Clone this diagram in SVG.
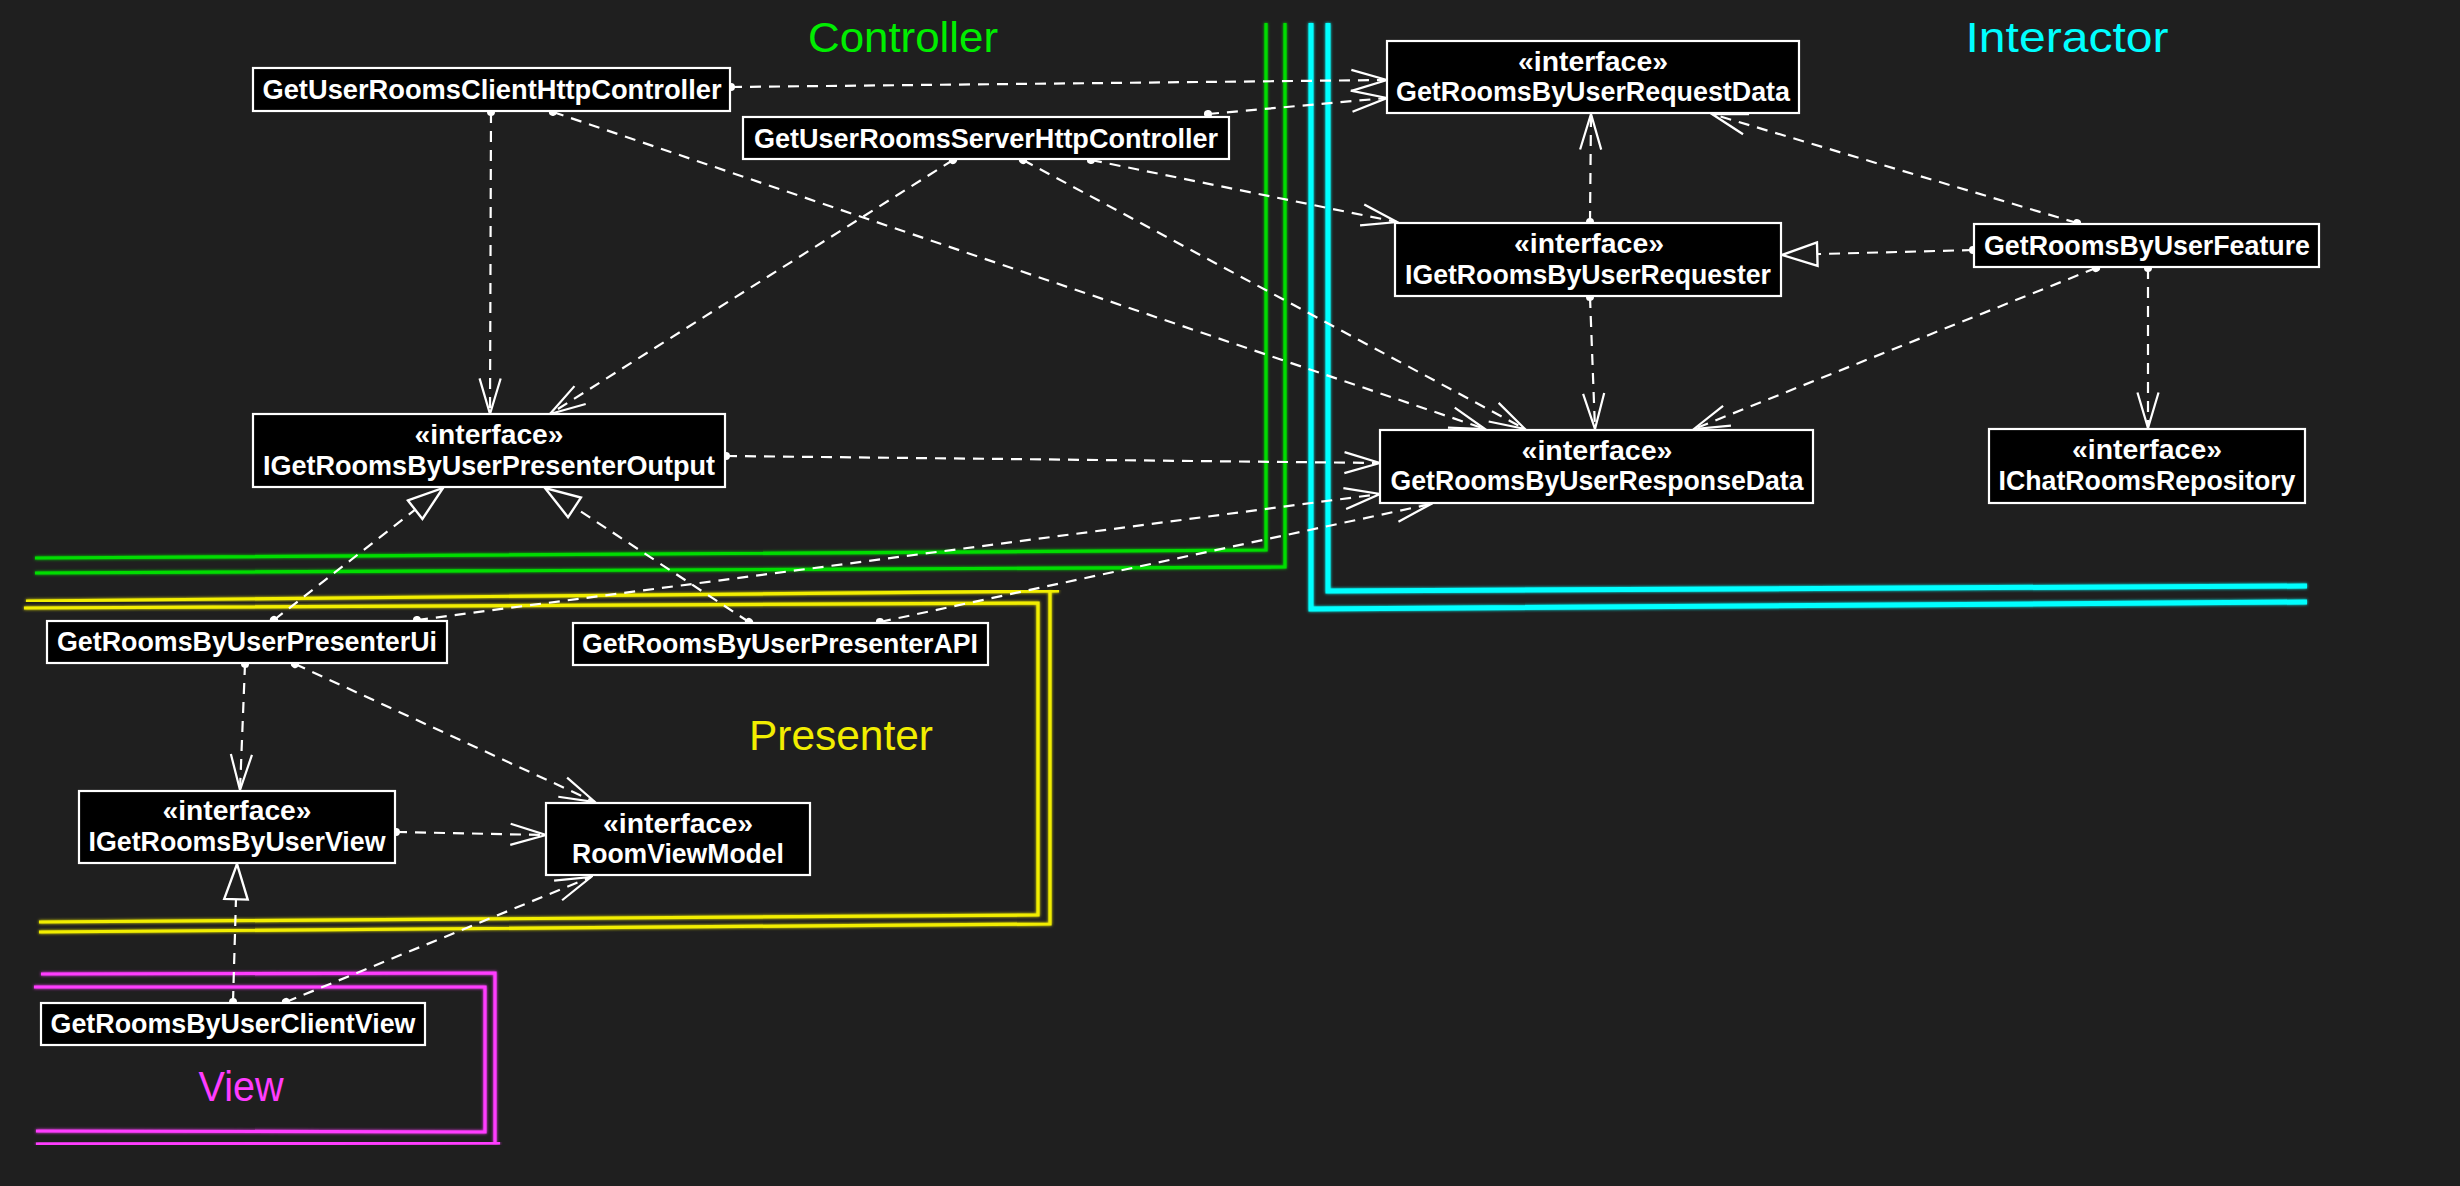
<svg xmlns="http://www.w3.org/2000/svg" width="2460" height="1186" viewBox="0 0 2460 1186">
<defs>
<style>
.bg{fill:#1f1f1f}
.box{fill:#000;stroke:#fff;stroke-width:2.2}
.t{font-family:"Liberation Sans",Arial,sans-serif;font-weight:bold;font-size:27px;fill:#fff;text-anchor:middle}
.lbl{font-family:"Liberation Sans",Arial,sans-serif;font-size:42px;text-anchor:middle}
.c{fill:none;stroke:#fff;stroke-width:2.2;stroke-dasharray:11 8}
.dep{marker-start:url(#dot);marker-end:url(#open)}
.real{marker-start:url(#dot);marker-end:url(#tri)}
.g{fill:none;stroke:#00dd00;stroke-width:3.2;filter:url(#glow)}
.y{fill:none;stroke:#f2ee00;stroke-width:3.2;filter:url(#glow)}
.cy{fill:none;stroke:#00ffff;stroke-width:5;filter:url(#glow)}
.m{fill:none;stroke:#ff3cff;stroke-width:3.2;filter:url(#glow)}
</style>
<filter id="glow" x="-5%" y="-5%" width="110%" height="110%">
<feGaussianBlur in="SourceGraphic" stdDeviation="1.5" result="b"/>
<feMerge><feMergeNode in="b"/><feMergeNode in="SourceGraphic"/></feMerge>
</filter>
<marker id="open" markerUnits="userSpaceOnUse" markerWidth="40" markerHeight="30" viewBox="-34 -12 36 24" refX="0" refY="0" orient="auto">
<path d="M-32,-9.5 L0,0 L-32,9.5" fill="none" stroke="#fff" stroke-width="2" stroke-dasharray="none"/>
</marker>
<marker id="tri" markerUnits="userSpaceOnUse" markerWidth="40" markerHeight="30" viewBox="-32 -12 34 24" refX="0" refY="0" orient="auto">
<path d="M-30,-10 L0,0 L-30,10 Z" fill="#1f1f1f" stroke="#fff" stroke-width="2" stroke-dasharray="none"/>
</marker>
<marker id="dot" markerUnits="userSpaceOnUse" markerWidth="12" markerHeight="12" viewBox="-6 -6 12 12" refX="0" refY="0" orient="auto">
<circle cx="0" cy="0" r="4" fill="#fff"/>
</marker>
</defs>
<rect class="bg" x="0" y="0" width="2460" height="1186"/>

<g id="regions">
<polyline class="g" points="1266,23 1266,550 35,558"/>
<polyline class="g" points="1285,23 1285,567 35,573"/>
<polyline class="cy" points="1311,23 1311,609 2307,602"/>
<polyline class="cy" points="1328,23 1328,591 2307,586"/>
<polyline class="y" points="26,601 1059,591"/>
<polyline class="y" points="1050,591 1050,924 39,932"/>
<polyline class="y" points="24,608 1038,603 1038,915 39,922"/>
<polyline class="m" points="41,974 495,973 495,1143"/>
<polyline class="m" points="36,1144 500,1143"/>
<polyline class="m" points="34,987 485,987 485,1132 36,1131"/>
<text class="lbl" x="903" y="52" fill="#00ee00" textLength="190" lengthAdjust="spacingAndGlyphs">Controller</text>
<text class="lbl" x="2067" y="52" fill="#00ffff" textLength="203" lengthAdjust="spacingAndGlyphs">Interactor</text>
<text class="lbl" x="841" y="750" fill="#f2ee00" textLength="184" lengthAdjust="spacingAndGlyphs">Presenter</text>
<text class="lbl" x="241" y="1101" fill="#ff3cff" textLength="85" lengthAdjust="spacingAndGlyphs">View</text>
</g>

<g id="connectors">
<line class="c dep" x1="731" y1="87" x2="1387" y2="80"/>
<line class="c dep" x1="1208" y1="114" x2="1387" y2="98"/>
<line class="c dep" x1="1091" y1="160" x2="1397" y2="222"/>
<line class="c dep" x1="491" y1="112" x2="490" y2="414"/>
<line class="c dep" x1="553" y1="112" x2="1485" y2="429"/>
<line class="c dep" x1="1023" y1="160" x2="1525" y2="429"/>
<line class="c dep" x1="953" y1="160" x2="550" y2="414"/>
<line class="c dep" x1="726" y1="456" x2="1380" y2="463"/>
<line class="c real" x1="274" y1="620" x2="443" y2="488"/>
<line class="c real" x1="749" y1="622" x2="545" y2="488"/>
<line class="c dep" x1="417" y1="620" x2="1380" y2="494"/>
<line class="c dep" x1="880" y1="622" x2="1431" y2="504"/>
<line class="c dep" x1="245" y1="664" x2="240" y2="790"/>
<line class="c dep" x1="295" y1="664" x2="595" y2="802"/>
<line class="c dep" x1="396" y1="832" x2="546" y2="835"/>
<line class="c real" x1="233" y1="1002" x2="237" y2="864"/>
<line class="c dep" x1="286" y1="1002" x2="591" y2="877"/>
<line class="c dep" x1="1590" y1="222" x2="1591" y2="114"/>
<line class="c dep" x1="2077" y1="223" x2="1712" y2="114"/>
<line class="c real" x1="1973" y1="250" x2="1782" y2="255"/>
<line class="c dep" x1="1590" y1="297" x2="1595" y2="429"/>
<line class="c dep" x1="2096" y1="268" x2="1694" y2="429"/>
<line class="c dep" x1="2148" y1="268" x2="2148" y2="428"/>
</g>

<g id="GetUserRoomsClientHttpController">
<rect class="box" x="253" y="68" width="477" height="43"/>
<text class="t" x="492" y="99" textLength="459" lengthAdjust="spacingAndGlyphs">GetUserRoomsClientHttpController</text>
</g>
<g id="GetUserRoomsServerHttpController">
<rect class="box" x="743" y="117" width="486" height="42"/>
<text class="t" x="986" y="148" textLength="464" lengthAdjust="spacingAndGlyphs">GetUserRoomsServerHttpController</text>
</g>
<g id="GetRoomsByUserRequestData">
<rect class="box" x="1387" y="41" width="412" height="72"/>
<text class="t" x="1593" y="71" textLength="150" lengthAdjust="spacingAndGlyphs">«interface»</text>
<text class="t" x="1593" y="101" textLength="394" lengthAdjust="spacingAndGlyphs">GetRoomsByUserRequestData</text>
</g>
<g id="IGetRoomsByUserRequester">
<rect class="box" x="1395" y="223" width="386" height="73"/>
<text class="t" x="1589" y="253" textLength="150" lengthAdjust="spacingAndGlyphs">«interface»</text>
<text class="t" x="1588" y="284" textLength="366" lengthAdjust="spacingAndGlyphs">IGetRoomsByUserRequester</text>
</g>
<g id="GetRoomsByUserFeature">
<rect class="box" x="1974" y="224" width="345" height="43"/>
<text class="t" x="2147" y="255" textLength="326" lengthAdjust="spacingAndGlyphs">GetRoomsByUserFeature</text>
</g>
<g id="GetRoomsByUserResponseData">
<rect class="box" x="1380" y="430" width="433" height="73"/>
<text class="t" x="1597" y="460" textLength="151" lengthAdjust="spacingAndGlyphs">«interface»</text>
<text class="t" x="1597" y="490" textLength="413" lengthAdjust="spacingAndGlyphs">GetRoomsByUserResponseData</text>
</g>
<g id="IChatRoomsRepository">
<rect class="box" x="1989" y="429" width="316" height="74"/>
<text class="t" x="2147" y="459" textLength="150" lengthAdjust="spacingAndGlyphs">«interface»</text>
<text class="t" x="2147" y="490" textLength="297" lengthAdjust="spacingAndGlyphs">IChatRoomsRepository</text>
</g>
<g id="IGetRoomsByUserPresenterOutput">
<rect class="box" x="253" y="414" width="472" height="73"/>
<text class="t" x="489" y="444" textLength="149" lengthAdjust="spacingAndGlyphs">«interface»</text>
<text class="t" x="489" y="475" textLength="452" lengthAdjust="spacingAndGlyphs">IGetRoomsByUserPresenterOutput</text>
</g>
<g id="GetRoomsByUserPresenterUi">
<rect class="box" x="47" y="621" width="400" height="42"/>
<text class="t" x="247" y="651" textLength="380" lengthAdjust="spacingAndGlyphs">GetRoomsByUserPresenterUi</text>
</g>
<g id="GetRoomsByUserPresenterAPI">
<rect class="box" x="573" y="623" width="415" height="42"/>
<text class="t" x="780" y="653" textLength="396" lengthAdjust="spacingAndGlyphs">GetRoomsByUserPresenterAPI</text>
</g>
<g id="IGetRoomsByUserView">
<rect class="box" x="79" y="791" width="316" height="72"/>
<text class="t" x="237" y="820" textLength="149" lengthAdjust="spacingAndGlyphs">«interface»</text>
<text class="t" x="237" y="851" textLength="297" lengthAdjust="spacingAndGlyphs">IGetRoomsByUserView</text>
</g>
<g id="RoomViewModel">
<rect class="box" x="546" y="803" width="264" height="72"/>
<text class="t" x="678" y="833" textLength="150" lengthAdjust="spacingAndGlyphs">«interface»</text>
<text class="t" x="678" y="863" textLength="212" lengthAdjust="spacingAndGlyphs">RoomViewModel</text>
</g>
<g id="GetRoomsByUserClientView">
<rect class="box" x="41" y="1003" width="384" height="42"/>
<text class="t" x="233" y="1033" textLength="365" lengthAdjust="spacingAndGlyphs">GetRoomsByUserClientView</text>
</g>
</svg>
